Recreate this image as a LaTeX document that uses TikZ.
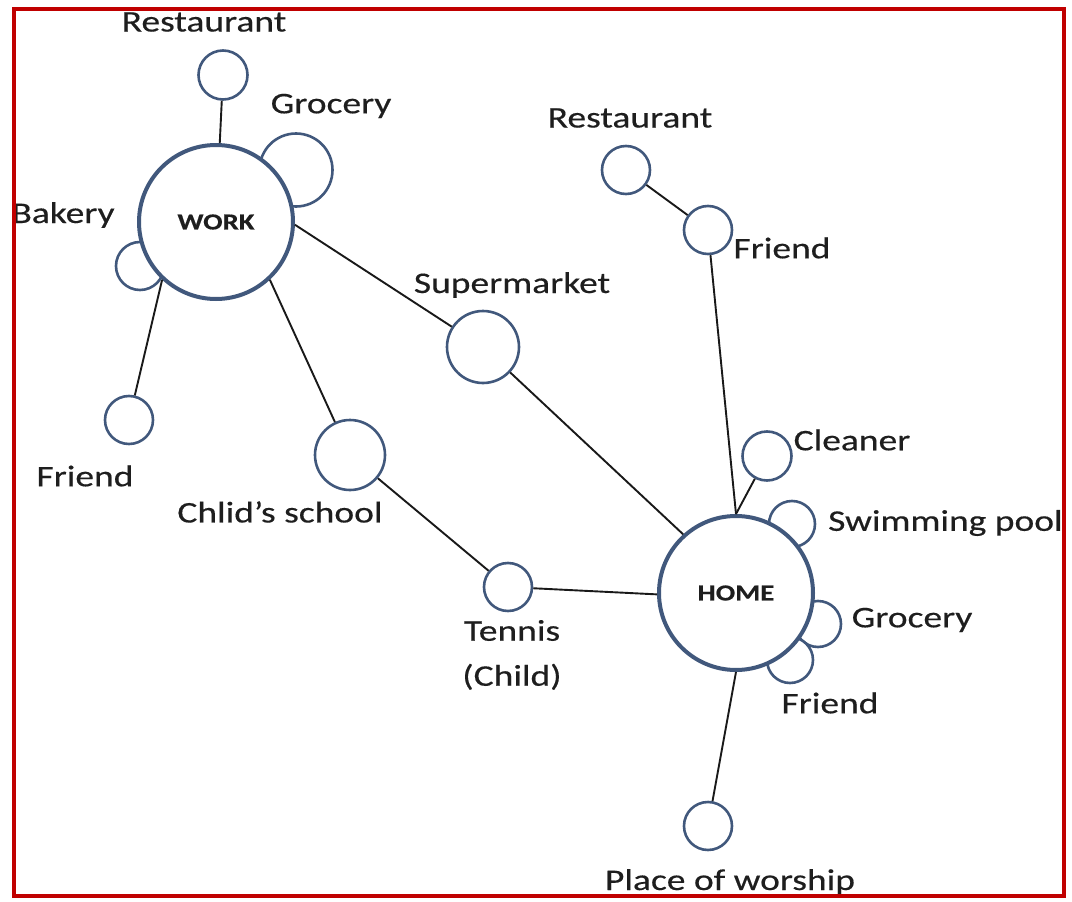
\documentclass[tikz,border=0pt]{standalone}
\usepackage{fontspec}
\setmainfont{Carlito}[FakeStretch=1.25,FakeBold=0.4]
\definecolor{ring}{HTML}{41587C}
\definecolor{frame}{HTML}{C00000}
\definecolor{ink}{HTML}{1E1E1E}
\begin{document}
\begin{tikzpicture}[x=1pt,y=-1pt,
  small/.style={circle,draw=ring,line width=2.6pt,fill=white,inner sep=0pt,minimum size=#1},
  big/.style={circle,draw=ring,line width=4pt,fill=white,inner sep=0pt,minimum size=154pt,font=\fontsize{23}{26}\selectfont\bfseries,text=ink},
  lbl/.style={font=\fontsize{30}{36}\selectfont,text=ink,inner sep=0pt,align=center},
  link/.style={line width=1.9pt,black!90}]
\useasboundingbox (0,0) rectangle (1072,902);
% small circles
\node[small=49pt] (wrest) at (223,75) {};
\node[small=73pt] (wgroc) at (296,170) {};
\node[small=48pt] (wbak) at (140,266) {};
\node[small=48pt] (wfri) at (129,420) {};
\node[small=70pt] (school) at (350,455) {};
\node[small=72pt] (super) at (483,347) {};
\node[small=48pt] (tennis) at (508,587) {};
\node[small=48pt] (hrest) at (626,170) {};
\node[small=48pt] (hfri) at (708,230) {};
\node[small=49pt] (clean) at (767,456) {};
\node[small=46pt] (swim) at (792,524) {};
\node[small=46pt] (hgroc) at (818,624) {};
\node[small=46pt] (hfri2) at (790,660) {};
\node[small=48pt] (worship) at (708,826) {};
% big circles
\node[big] (work) at (216,222) {WORK};
\node[big] (home) at (736,593) {HOME};
% connectors
\draw[link] (work) -- (wrest);
\draw[link] (work.227) -- (wfri);
\draw[link] (work.313) -- (school);
\draw[link] (work.358) -- (super);
\draw[link] (super) -- (home.132);
\draw[link] (school) -- (tennis);
\draw[link] (tennis) -- (home.181);
\draw[link] (hrest) -- (hfri);
\draw[link] (hfri) -- (home.north);
\draw[link] (clean) -- (home.north);
\draw[link] (home.south) -- (worship);
% labels
\node[lbl] (twrest) at (204,22) {Restaurant};
\node[lbl] (twgroc) at (331,106) {Grocery};
\node[lbl] (twbak) at (63,215) {Bakery};
\node[lbl] (twfri) at (85,476) {Friend};
\node[lbl] (tschool) at (280,512) {Chlid’s school};
\node[lbl] (tsuper) at (512,285) {Supermarket};
\node[lbl,font=\fontsize{30}{45}\selectfont] (ttennis) at (512,655) {Tennis\\(Child)};
\node[lbl] (threst) at (630,118) {Restaurant};
\node[lbl] (thfri) at (782,248) {Friend};
\node[lbl] (tclean) at (852,440) {Cleaner};
\node[lbl,anchor=west] (tswim) at (828,523) {Swimming pool};
\node[lbl] (thgroc) at (912,620) {Grocery};
\node[lbl] (thfri2) at (830,703) {Friend};
\node[lbl] (tworship) at (730,882) {Place of worship};
% frame
\draw[frame,line width=4pt] (14,8.5) rectangle (1063.5,896);
\end{tikzpicture}
\end{document}
